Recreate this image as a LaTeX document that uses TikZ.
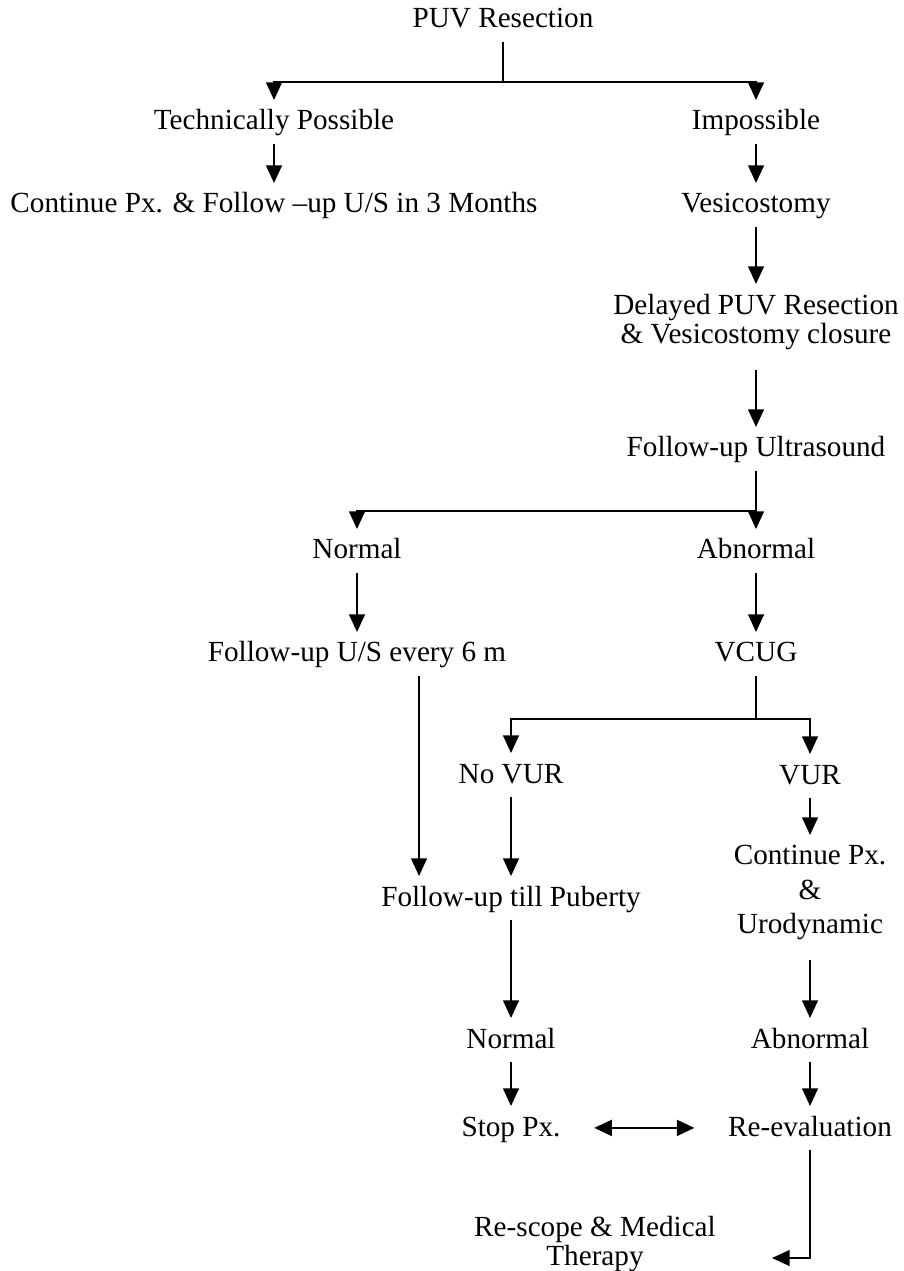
\documentclass[tikz,border=0pt]{standalone}
\usepackage{fontspec}
\setmainfont{Liberation Serif}
\usetikzlibrary{arrows.meta}

\begin{document}
\begin{tikzpicture}[x=0.01cm, y=-0.01cm, line width=0.45pt,
		lbl/.style={font=\fontsize{8.3}{9.7}\selectfont, inner xsep=0pt, inner ysep=2.8pt, text height=5.5pt, text depth=0.9pt, anchor=base},
		lbls/.style={font=\fontsize{8.3}{#1}\selectfont, align=center, inner xsep=0pt, inner ysep=2.8pt, anchor=north},
		arr/.style={-{Triangle[width=4.5pt,length=5pt]}},
		dbl/.style={{Triangle[width=4.6pt,length=5pt]}-{Triangle[width=4.6pt,length=5pt]}}]
		\useasboundingbox (0,0) rectangle (903,1271);
		\def\xl{274}
		\def\xr{756}
		\def\xn{357}
		\def\xa{511}
		\def\xb{810}

		\node[lbl] (puv) at (503,28) {PUV Resection};
		\node[lbl] (tech) at (\xl,130) {Technically Possible};
		\node[lbl] (imp) at (\xr,130) {Impossible};
		\node[lbl] (cont) at (\xl,213) {Continue Px. \& Follow –up U/S in 3 Months};
		\node[lbl] (vesi) at (\xr,213) {Vesicostomy};
		\node[lbls=8.25pt] (delay) at (\xr,284) {Delayed PUV Resection\\\& Vesicostomy closure};
		\node[lbl] (fus) at (\xr,457) {Follow-up Ultrasound};
		\node[lbl] (norm1) at (\xn,559) {Normal};
		\node[lbl] (abn1) at (\xr,559) {Abnormal};
		\node[lbl] (fu6) at (\xn,662) {Follow-up U/S every 6 m};
		\node[lbl] (vcug) at (\xr,662) {VCUG};
		\node[lbl] (novur) at (\xa,783) {No VUR};
		\node[lbl] (vur) at (\xb,784) {VUR};
		\node[lbl] (tillp) at (\xa,906) {Follow-up till Puberty};
		\node[lbls=9.7pt] (contpx) at (\xb,835) {Continue Px.\\\&\\Urodynamic};
		\node[lbl] (norm2) at (\xa,1048) {Normal};
		\node[lbl] (abn2) at (\xb,1048) {Abnormal};
		\node[lbl] (stop) at (\xa,1136) {Stop Px.};
		\node[lbl] (reeval) at (\xb,1136) {Re-evaluation};
		\node[lbls=8.1pt] (rescope) at (595,1206) {Re-scope \& Medical\\Therapy};

		\coordinate (j1) at (503,82);
		\coordinate (j2) at (\xr,511);
		\coordinate (j3) at (\xr,719);
		\coordinate (tipR) at (772,1258);

		\draw (puv.south) -- (j1);
		\draw[arr] (j1) -| (tech.north);
		\draw[arr] (j1) -| (imp.north);
		\draw[arr] (tech.south) -- (cont.north);
		\draw[arr] (imp.south) -- (vesi.north);
		\draw[arr] (vesi.south) -- (delay.north);
		\draw[arr, shorten <=2.6pt] (delay.south) -- (fus.north);
		\draw[arr] (fus.south) -- (abn1.north);
		\draw[arr] (j2) -| (norm1.north);
		\draw[arr] (norm1.south) -- (fu6.north);
		\draw[arr] (abn1.south) -- (vcug.north);
		\draw (vcug.south) -- (j3);
		\draw[arr] (j3) -| (novur.north);
		\draw[arr] (j3) -| (vur.north);
		\draw[arr] (novur.south) -- (tillp.north);
		\draw[arr] ([xshift=0.62cm]fu6.south) -- ([xshift=0.62cm]fu6.south |- tillp.north);
		\draw[arr] (vur.south) -- (contpx.north);
		\draw[arr, shorten <=2.8pt] (contpx.south) -- (abn2.north);
		\draw[arr] (tillp.south) -- (norm2.north);
		\draw[arr] (norm2.south) -- (stop.north);
		\draw[arr] (abn2.south) -- (reeval.north);
		\draw[dbl, shorten <=0.33cm, shorten >=0.33cm] (stop.east) -- (reeval.west);
		\draw[arr] (reeval.south) |- (tipR);
	\end{tikzpicture}
\end{document}
